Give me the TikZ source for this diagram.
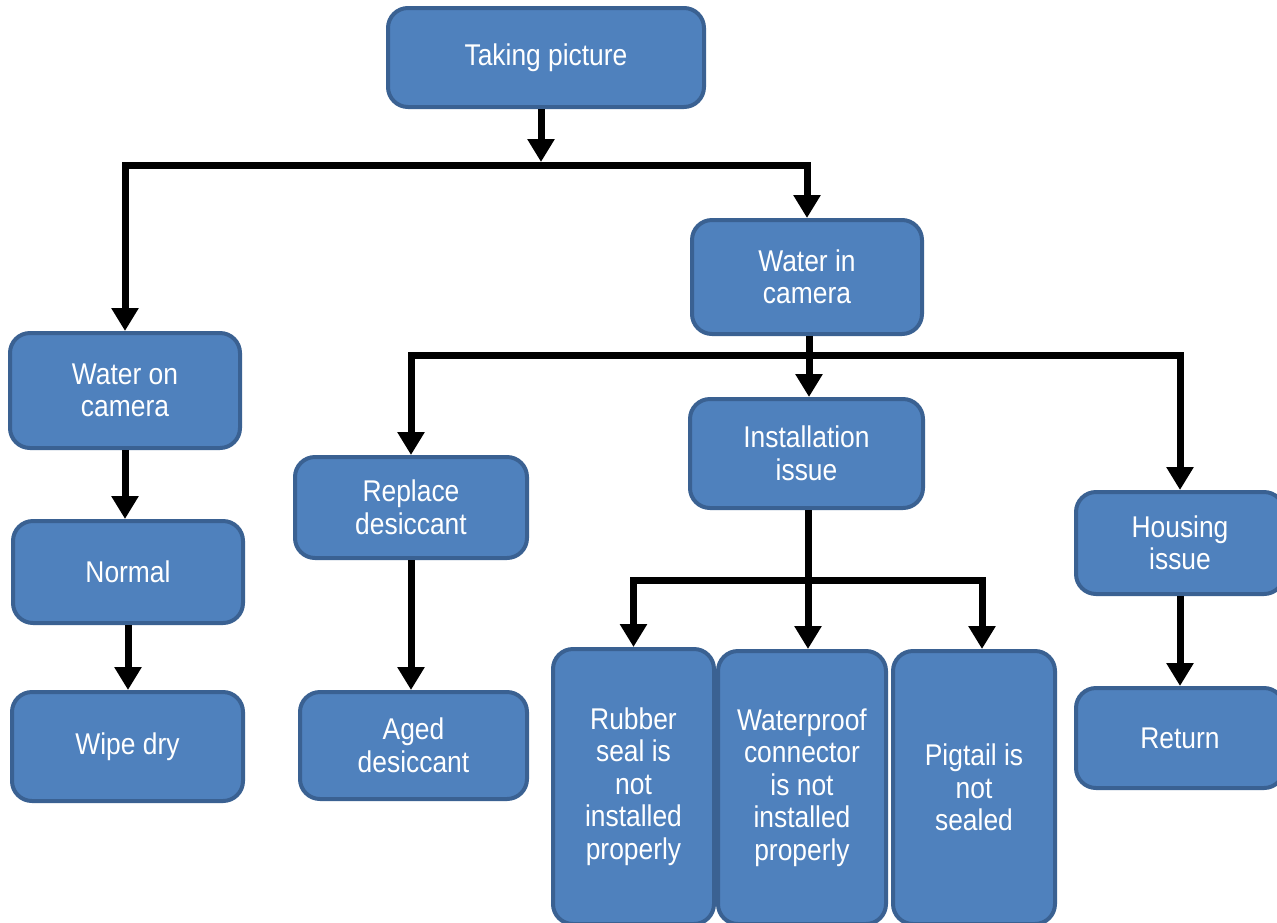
\documentclass[tikz,border=0pt]{standalone}
\usepackage{fontspec}
\newfontfamily\boxfont{Liberation Sans}[FakeStretch=0.88]
\usetikzlibrary{arrows.meta}
\definecolor{boxfill}{HTML}{4F81BD}
\definecolor{boxline}{HTML}{3A6192}
\begin{document}
\begin{tikzpicture}[x=1pt,y=-1pt,
  box/.style={draw=boxline, line width=4pt, fill=boxfill, rounded corners=20pt,
    text=white, align=center, inner sep=0pt,
    font=\boxfont\fontsize{30}{32.5}\selectfont},
  ln/.style={line width=7pt, black},
  arr/.style={line width=7pt, black, -{Triangle[length=23pt,width=26pt]}}]
\useasboundingbox (0,0) rectangle (1277,922);
\clip (0,0) rectangle (1277,922);
\fill[white] (0,0) rectangle (1277,922);
% nodes
\node[box, minimum width=316pt, minimum height=99pt] (tp) at (546,57.5) {Taking picture};
\node[box, minimum width=230pt, minimum height=114pt] (wic) at (807,277) {Water in\\camera};
\node[box, minimum width=230pt, minimum height=115pt] (woc) at (125,390.5) {Water on\\camera};
\node[box, minimum width=230pt, minimum height=102pt] (nm) at (128,572) {Normal};
\node[box, minimum width=231pt, minimum height=109pt] (wd) at (127.5,746.5) {Wipe dry};
\node[box, minimum width=232pt, minimum height=101pt] (rd) at (411,507.5) {Replace\\desiccant};
\node[box, minimum width=227pt, minimum height=107pt] (ad) at (413.5,745.5) {Aged\\desiccant};
\node[box, minimum width=233pt, minimum height=109pt] (ii) at (806.5,453.5) {Installation\\issue};
\node[box, minimum width=208pt, minimum height=102pt] (hi) at (1180,543) {Housing\\issue};
\node[box, minimum width=208pt, minimum height=100pt] (ret) at (1180,738) {Return};
\node[box, minimum width=161pt, minimum height=275pt] (rs) at (633.5,786.5) {Rubber\\seal is\\not\\installed\\properly};
\node[box, minimum width=168pt, minimum height=273pt] (wp) at (802,787.5) {Waterproof\\connector\\is not\\installed\\properly};
\node[box, minimum width=162pt, minimum height=273pt] (pg) at (974,787.5) {Pigtail is\\not\\sealed};
% junction coordinates
\coordinate (j1) at (541,165);
\coordinate (j2) at (809,355);
\coordinate (j3) at (808,580);
\coordinate (j3r) at (982,580);
% level 1
\draw[ln] (woc.north |- j1) -- (wic.north |- j1);
\draw[arr, shorten >=3pt] (j1 |- tp.south) -- (j1);
\draw[arr] (j1) -| (woc.north);
\draw[arr] (j1) -| (wic.north);
% level 2
\draw[ln] (j2 |- wic.south) -- (j2);
\draw[ln] (rd.north |- j2) -- (hi.north |- j2);
\draw[arr] (j2) -- (j2 |- ii.north);
\draw[arr] (j2) -| (rd.north);
\draw[arr] (j2) -| (hi.north);
% level 3
\draw[ln] (j3 |- ii.south) -- (j3);
\draw[ln] (rs.north |- j3) -- (j3r);
\draw[arr] (j3) -- (j3 |- wp.north);
\draw[arr] (j3) -| (rs.north);
\draw[arr] (j3) -| (j3r |- pg.north);
% vertical chains
\draw[arr] (woc.south) -- (woc.south |- nm.north);
\draw[arr] (nm.south) -- (nm.south |- wd.north);
\draw[arr] (rd.south) -- (rd.south |- ad.north);
\draw[arr] (hi.south) -- (ret.north);
\end{tikzpicture}
\end{document}
